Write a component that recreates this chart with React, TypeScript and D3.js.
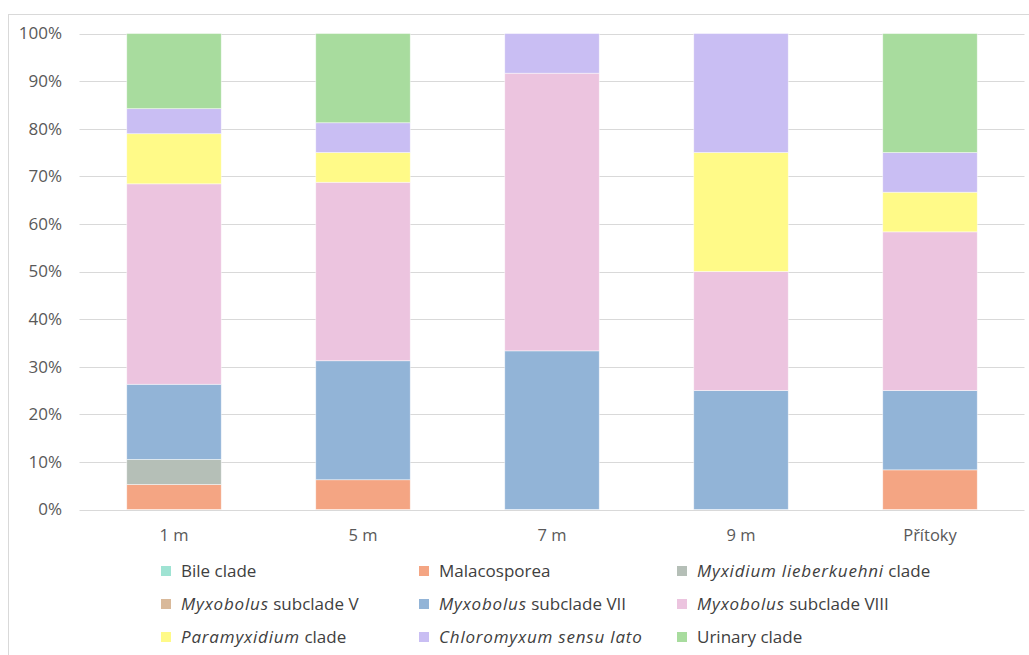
import React from "react";
import * as d3 from "d3";

const categories = ["1 m", "5 m", "7 m", "9 m", "Přítoky"];
const seriesNames = [
  "Bile clade",
  "Malacosporea",
  "Myxidium lieberkuehni clade",
  "Myxobolus subclade V",
  "Myxobolus subclade VII",
  "Myxobolus subclade VIII",
  "Paramyxidium clade",
  "Chloromyxum sensu lato",
  "Urinary clade",
];
// percentages per category (same order as categories)
const bileClade = [0, 0, 0, 0, 0];
const malacosporea = [5.26, 6.25, 0, 0, 8.33];
const myxidium = [5.26, 0, 0, 0, 0];
const myxobolusV = [0, 0, 0, 0, 0];
const myxobolusVII = [15.79, 25, 33.33, 25, 16.67];
const myxobolusVIII = [42.11, 37.5, 58.33, 25, 33.33];
const paramyxidium = [10.53, 6.25, 0, 25, 8.33];
const chloromyxum = [5.26, 6.25, 8.33, 25, 8.33];
const urinary = [15.79, 18.75, 0, 0, 25];
const seriesValues = [bileClade, malacosporea, myxidium, myxobolusV, myxobolusVII, myxobolusVIII, paramyxidium, chloromyxum, urinary];
const colors = ["#9fe3d3", "#f4a583", "#b5bfb7", "#d9b99a", "#92b4d7", "#ecc4df", "#fffa88", "#c9bef3", "#a8dc9e"];
const yTicks = [0, 10, 20, 30, 40, 50, 60, 70, 80, 90, 100];

// legend label parts: [italic part, normal part]
const legendParts: [string, string][] = [
  ["", "Bile clade"],
  ["", "Malacosporea"],
  ["Myxidium lieberkuehni", " clade"],
  ["Myxobolus", " subclade V"],
  ["Myxobolus", " subclade VII"],
  ["Myxobolus", " subclade VIII"],
  ["Paramyxidium", " clade"],
  ["Chloromyxum sensu lato", ""],
  ["", "Urinary clade"],
];

const W = 1029;
const H = 655;
const FONT = "'Open Sans', sans-serif";

export default function App() {
  const x = d3.scaleBand().domain(categories).range([79.5, 1024.5]).paddingInner(0.5).paddingOuter(0.25);
  const y = d3.scaleLinear().domain([0, 100]).range([509.5, 33.5]);

  const table = categories.map((c, i) => {
    const row: any = { cat: c };
    seriesNames.forEach((s, j) => (row[s] = seriesValues[j][i]));
    return row;
  });
  const stacked = d3.stack().keys(seriesNames)(table);

  const legCols = [166, 424, 682];
  const legRows = [571, 604, 637];

  return (
    <svg width={W} height={H} style={{ position: "absolute", left: 0, top: 0, background: "#fff" }} fontFamily={FONT}>
      <rect x={8.5} y={14.5} width={W + 10} height={H + 10} fill="#fff" stroke="#d9d9d9" strokeWidth={1} />
      {yTicks.map((t) => (
        <g key={t}>
          <line x1={79.5} x2={1024.5} y1={Math.round(y(t)) + 0.5} y2={Math.round(y(t)) + 0.5} stroke="#d9d9d9" strokeWidth={1} />
          <text x={62} y={y(t)} dy="0.35em" textAnchor="end" fontSize={17} fill="#595959">
            {t}%
          </text>
        </g>
      ))}
      {stacked.map((s, j) => (
        <g key={s.key} fill={colors[j]}>
          {s.map((d, i) =>
            d[1] - d[0] > 0 ? (
              <rect
                key={i}
                x={x(categories[i])}
                width={x.bandwidth()}
                y={y(d[1])}
                height={y(d[0]) - y(d[1])}
                stroke="#ffffff"
                strokeOpacity={0.6}
                strokeWidth={0.75}
              />
            ) : null
          )}
        </g>
      ))}
      {categories.map((c) => (
        <text key={c} x={(x(c) as number) + x.bandwidth() / 2} y={535} dy="0.35em" textAnchor="middle" fontSize={16.5} fill="#595959">
          {c}
        </text>
      ))}
      {legendParts.map((p, k) => {
        const cx = legCols[k % 3];
        const cy = legRows[Math.floor(k / 3)];
        return (
          <g key={k}>
            <rect x={cx - 5} y={cy - 5} width={10} height={10} fill={colors[k]} />
            <text x={cx + 15} y={cy} dy="0.35em" fontSize={17} fill="#404040">
              {p[0] && <tspan fontStyle="italic" letterSpacing={0.8}>{p[0]}</tspan>}
              {p[1] && <tspan>{p[1]}</tspan>}
            </text>
          </g>
        );
      })}
    </svg>
  );
}
